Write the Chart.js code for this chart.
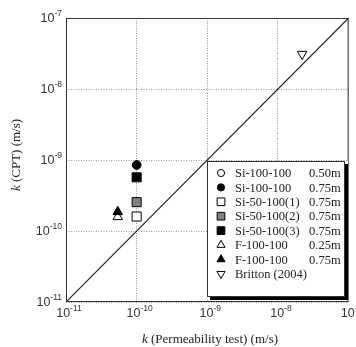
<!DOCTYPE html>
<html>
<head>
<meta charset="utf-8">
<script src="https://cdn.jsdelivr.net/npm/chart.js@4/dist/chart.umd.min.js"></script>
<style>
html, body { margin: 0; padding: 0; background: #fff; }
#wrap { width: 356px; height: 347px; }
</style>
</head>
<body>
<div id="wrap"><canvas id="grafica" width="356" height="347"></canvas></div>
<script>
// datos
var nombres = ['Si-100-100', 'Si-100-100', 'Si-50-100(1)', 'Si-50-100(2)', 'Si-50-100(3)', 'F-100-100', 'F-100-100', 'Britton (2004)'];
var profundidades = ['0.50m', '0.75m', '0.75m', '0.75m', '0.75m', '0.25m', '0.75m', ''];
var kPermeabilidad = [1.0e-10, 1.0e-10, 1.0e-10, 1.0e-10, 1.0e-10, 5.4e-11, 5.4e-11, 2.2e-8];
var kCPT = [8.5e-10, 8.5e-10, 1.6e-10, 2.55e-10, 5.7e-10, 1.58e-10, 1.86e-10, 3.1e-8];
var exponentes = [-11, -10, -9, -8, -7];
var lineaIgual = [1e-11, 1e-7];

// estilo de cada marcador
var estilos = [
    { forma: 'circle', relleno: '#ffffff', radio: 4.2, giro: 0 },
    { forma: 'circle', relleno: '#000000', radio: 4.2, giro: 0 },
    { forma: 'rect', relleno: '#ffffff', radio: 6.4, giro: 0 },
    { forma: 'rect', relleno: '#808080', radio: 6.4, giro: 0 },
    { forma: 'rect', relleno: '#000000', radio: 6.4, giro: 0 },
    { forma: 'triangle', relleno: '#ffffff', radio: 5.5, giro: 0 },
    { forma: 'triangle', relleno: '#000000', radio: 5.5, giro: 0 },
    { forma: 'triangle', relleno: '#ffffff', radio: 5.5, giro: 180 }
];

var decadas = exponentes.map(function (e) { return Math.pow(10, e); });

var datasets = [{
    type: 'line',
    data: lineaIgual.map(function (v) { return { x: v, y: v }; }),
    borderColor: '#222',
    borderWidth: 1.2,
    pointRadius: 0,
    fill: false,
    order: 100
}];
for (var i = 0; i < nombres.length; i++) {
    datasets.push({
        type: 'scatter',
        label: nombres[i] + ' ' + profundidades[i],
        data: [{ x: kPermeabilidad[i], y: kCPT[i] }],
        pointStyle: estilos[i].forma,
        pointRadius: estilos[i].radio,
        pointRotation: estilos[i].giro,
        backgroundColor: estilos[i].relleno,
        borderColor: '#000',
        borderWidth: 1,
        order: nombres.length - i   // los ultimos quedan encima
    });
}

// escribe 10^e con exponente elevado
function potencia(ctx, e, x, y, alinear) {
    var base = '10', exp = '-' + (-e);
    ctx.font = '12.5px "Liberation Sans", Arial, sans-serif';
    var wb = ctx.measureText(base).width;
    ctx.font = '8.5px "Liberation Sans", Arial, sans-serif';
    var we = ctx.measureText(exp).width;
    var x0 = alinear === 'right' ? x - wb - we : x - (wb + we) / 2;
    ctx.fillStyle = '#333';
    ctx.textBaseline = 'middle';
    ctx.textAlign = 'left';
    ctx.font = '12.5px "Liberation Sans", Arial, sans-serif';
    ctx.fillText(base, x0, y);
    ctx.font = '8.5px "Liberation Sans", Arial, sans-serif';
    ctx.fillText(exp, x0 + wb, y - 5);
}

var extras = {
    id: 'extras',
    afterDraw: function (chart) {
        var ctx = chart.ctx, a = chart.chartArea;
        var sx = chart.scales.x, sy = chart.scales.y;
        ctx.save();
        // marco
        ctx.strokeStyle = '#333';
        ctx.lineWidth = 1;
        ctx.strokeRect(a.left + 0.5, a.top + 0.5, a.right - a.left - 1, a.bottom - a.top - 1);

        // etiquetas de los ejes
        exponentes.forEach(function (e) {
            var v = Math.pow(10, e);
            potencia(ctx, e, sx.getPixelForValue(v) + 3, 314, 'center');
            potencia(ctx, e, 62, sy.getPixelForValue(v) + 1, 'right');
        });

        // titulos
        ctx.fillStyle = '#222';
        ctx.textBaseline = 'middle';
        var serif = '"Liberation Serif", "Times New Roman", serif';
        var t1 = 'k', t2 = ' (Permeability test) (m/s)';
        ctx.font = 'italic 13px ' + serif;
        var w1 = ctx.measureText(t1).width;
        ctx.font = '13px ' + serif;
        var w2 = ctx.measureText(t2).width;
        var xs = 210 - (w1 + w2) / 2;
        ctx.textAlign = 'left';
        ctx.font = 'italic 13px ' + serif;
        ctx.fillText(t1, xs, 340);
        ctx.font = '13px ' + serif;
        ctx.fillText(t2, xs + w1, 340);

        ctx.save();
        ctx.translate(17, 155);
        ctx.rotate(-Math.PI / 2);
        var t3 = ' (CPT) (m/s)';
        ctx.font = 'italic 13px ' + serif;
        var w3 = ctx.measureText(t1).width;
        ctx.font = '13px ' + serif;
        var w4 = ctx.measureText(t3).width;
        var ys = -(w3 + w4) / 2;
        ctx.font = 'italic 13px ' + serif;
        ctx.fillText(t1, ys, 0);
        ctx.font = '13px ' + serif;
        ctx.fillText(t3, ys + w3, 0);
        ctx.restore();

        // leyenda
        var lx = 207, ly = 161, lw = 137, lh = 135;
        ctx.fillStyle = '#fff';
        ctx.fillRect(lx, ly, lw + 4, lh + 4);
        ctx.fillStyle = '#000';
        ctx.fillRect(lx + lw + 1, ly + 3, 3, lh + 1);
        ctx.fillRect(lx + 3, ly + lh + 1, lw + 1, 3);
        ctx.strokeStyle = '#333';
        ctx.lineWidth = 1;
        ctx.strokeRect(lx + 0.5, ly + 0.5, lw, lh);

        ctx.font = '12.5px ' + serif;
        for (var i = 0; i < nombres.length; i++) {
            var yy = 173 + i * 14.4;
            var es = estilos[i];
            ctx.fillStyle = es.relleno;
            ctx.strokeStyle = '#000';
            ctx.lineWidth = 1;
            Chart.helpers.drawPoint(ctx, {
                pointStyle: es.forma,
                radius: es.radio * 0.85,
                rotation: es.giro,
                borderWidth: 1
            }, 221, yy);
            ctx.fillStyle = '#222';
            ctx.textAlign = 'left';
            ctx.fillText(nombres[i], 235, yy + 1);
            if (profundidades[i]) {
                var fin = 235 + ctx.measureText(nombres[i]).width + 3;
                ctx.fillText(profundidades[i], Math.max(fin, 309), yy + 1);
            }
        }
        ctx.restore();
    }
};

var ctx = document.getElementById('grafica').getContext('2d');
var grafica = new Chart(ctx, {
    data: { datasets: datasets },
    options: {
        responsive: false,
        animation: false,
        layout: { padding: { left: 66, top: 18, right: 6, bottom: 45 } },
        plugins: { legend: { display: false }, tooltip: { enabled: false } },
        scales: {
            x: {
                type: 'logarithmic',
                min: 1e-11,
                max: 1e-7,
                afterBuildTicks: function (s) { s.ticks = decadas.map(function (v) { return { value: v }; }); },
                ticks: { display: false },
                grid: { color: '#999', lineWidth: 1, drawTicks: false },
                border: { display: false, dash: [1, 1.5] }
            },
            y: {
                type: 'logarithmic',
                min: 1e-11,
                max: 1e-7,
                afterBuildTicks: function (s) { s.ticks = decadas.map(function (v) { return { value: v }; }); },
                ticks: { display: false },
                grid: { color: '#999', lineWidth: 1, drawTicks: false },
                border: { display: false, dash: [1, 1.5] }
            }
        }
    },
    plugins: [extras]
});
</script>
</body>
</html>
